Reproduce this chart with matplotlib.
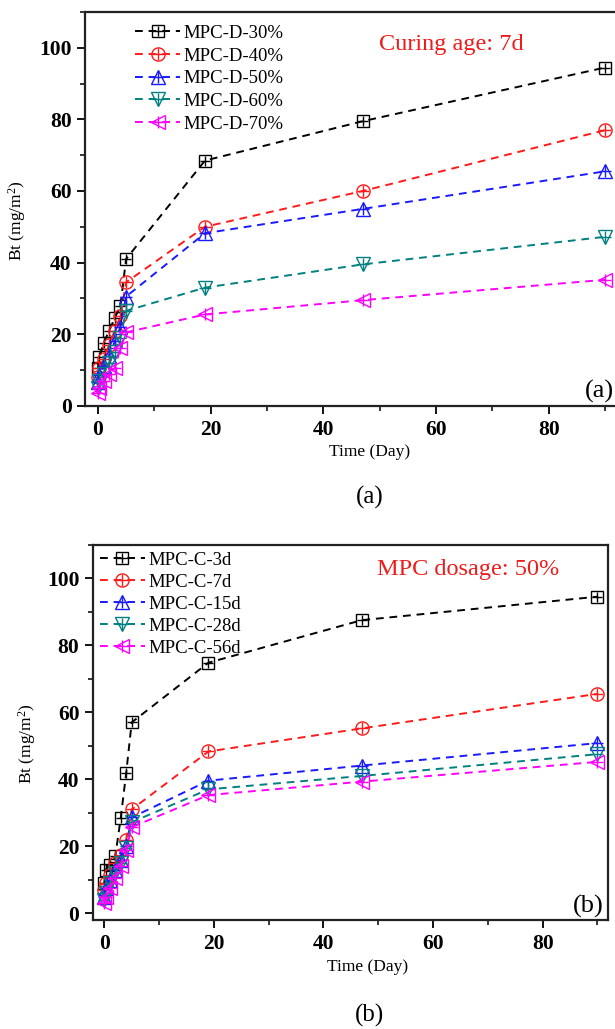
import matplotlib
matplotlib.use('Agg')
import matplotlib.pyplot as plt
from matplotlib.ticker import MultipleLocator

plt.rcParams['font.family'] = ['Liberation Serif', 'DejaVu Serif']
plt.rcParams['mathtext.fontset'] = 'custom'
plt.rcParams['mathtext.rm'] = 'Liberation Serif'
plt.rcParams['mathtext.it'] = 'Liberation Serif:italic'

# 测试时间 (天)
time_days = [0, 0.25, 1, 2, 3, 4, 5, 19, 47, 90]

# (a) 养护龄期 7d, 不同 MPC 掺量
labels_a = ['MPC-D-30%', 'MPC-D-40%', 'MPC-D-50%', 'MPC-D-60%', 'MPC-D-70%']
bt_d30 = [10.5, 13.5, 17.5, 21, 24.5, 28, 41, 68.5, 79.5, 94.5]
bt_d40 = [8, 10.5, 13, 17, 21, 25, 34.5, 50, 60, 77]
bt_d50 = [6.5, 8.5, 11, 14, 18, 22, 30.5, 48.2, 55, 65.5]
bt_d60 = [5, 7, 9, 12, 15, 19, 26.5, 33, 39.5, 47.2]
bt_d70 = [3.5, 5, 7, 9, 10.5, 16, 20.5, 25.5, 29.5, 35.2]
series_a = [bt_d30, bt_d40, bt_d50, bt_d60, bt_d70]

# (b) MPC 掺量 50%, 不同养护龄期
labels_b = ['MPC-C-3d', 'MPC-C-7d', 'MPC-C-15d', 'MPC-C-28d', 'MPC-C-56d']
bt_c3 = [9, 13, 14.5, 17, 28.5, 42, 57, 74.8, 87.5, 94.5]
bt_c7 = [7, 9, 11.5, 15, 17.5, 22, 31, 48.3, 55.2, 65.5]
bt_c15 = [5, 7.5, 10, 13, 16, 20, 28.6, 39.6, 44.1, 50.8]
bt_c28 = [4, 6, 9, 12, 15, 19.5, 27.2, 37, 41, 47.5]
bt_c56 = [3, 5, 7.5, 10.5, 14, 19, 25.7, 35.3, 39.3, 45.2]
series_b = [bt_c3, bt_c7, bt_c15, bt_c28, bt_c56]

colors = ['black', '#ff1a1a', '#1a1aff', '#008080', '#ff00ff']
markers = ['s', 'o', '^', 'v', '<']
sizes = [8, 9.5, 10, 10, 10]


def draw_panel(ax, series, labels, note, note_y, tag, legend_anchor, spacing,
               xl_y, yl_x):
    handles = []
    for y, lab, c, m, s in zip(series, labels, colors, markers, sizes):
        line, = ax.plot(time_days, y, ls=(0, (4, 3)), lw=1.4, color=c,
                        marker=m, ms=s, mfc='none', mec=c, mew=1.0)
        plus, = ax.plot(time_days, y, ls='none', color=c, marker='+',
                        ms=s * 0.9, mew=1.0)
        handles.append((line, plus))
    ax.legend(handles, labels, loc='upper left', bbox_to_anchor=legend_anchor,
              frameon=False, fontsize=13.5, handlelength=2.4, handletextpad=0.2,
              labelspacing=spacing, borderpad=0, borderaxespad=0)

    ax.xaxis.set_major_locator(MultipleLocator(20))
    ax.xaxis.set_minor_locator(MultipleLocator(10))
    ax.yaxis.set_major_locator(MultipleLocator(20))
    ax.yaxis.set_minor_locator(MultipleLocator(10))
    ax.tick_params(which='major', direction='out', length=6, width=1.3,
                   labelsize=15.5, pad=4)
    ax.tick_params(which='minor', direction='out', length=3.5, width=1.1)
    for lbl in ax.get_xticklabels() + ax.get_yticklabels():
        lbl.set_fontweight('bold')
    for sp in ax.spines.values():
        sp.set_linewidth(1.6)
        sp.set_color('#222222')

    ax.set_xlabel('Time (Day)', fontsize=12.5)
    ax.set_ylabel('Bt (mg/m$^2$)', fontsize=12.5)
    ax.xaxis.set_label_coords(0.533, xl_y)
    ax.yaxis.set_label_coords(yl_x, 0.47)

    ax.text(0.55, note_y, note, transform=ax.transAxes, color='#ee1c1c',
            fontsize=17.5, va='center', ha='left')
    ax.text(0.99, 0.006, tag, transform=ax.transAxes, fontsize=19,
            va='bottom', ha='right')


fig = plt.figure(figsize=(6.15, 10.29), dpi=100)

ax1 = fig.add_axes([0.139, 0.6057, 0.868, 0.3826])
draw_panel(ax1, series_a, labels_a, 'Curing age: 7d', 0.918, '(a)',
           (0.093, 0.968), 0.3, -0.097, -0.108)
ax1.set_xlim(-2.2, 92.5)
ax1.set_ylim(0, 110)

ax2 = fig.add_axes([0.1518, 0.1059, 0.8375, 0.3647])
draw_panel(ax2, series_b, labels_b, 'MPC dosage: 50%', 0.935, '(b)',
           (0.012, 0.982), 0.26, -0.104, -0.107)
ax2.set_xlim(-2.0, 92.0)
ax2.set_ylim(-2, 110)

fig.text(0.602, 0.517, '(a)', fontsize=18, ha='center', va='center')
fig.text(0.600, 0.0136, '(b)', fontsize=18, ha='center', va='center')

fig.savefig('out.png', dpi=100)
